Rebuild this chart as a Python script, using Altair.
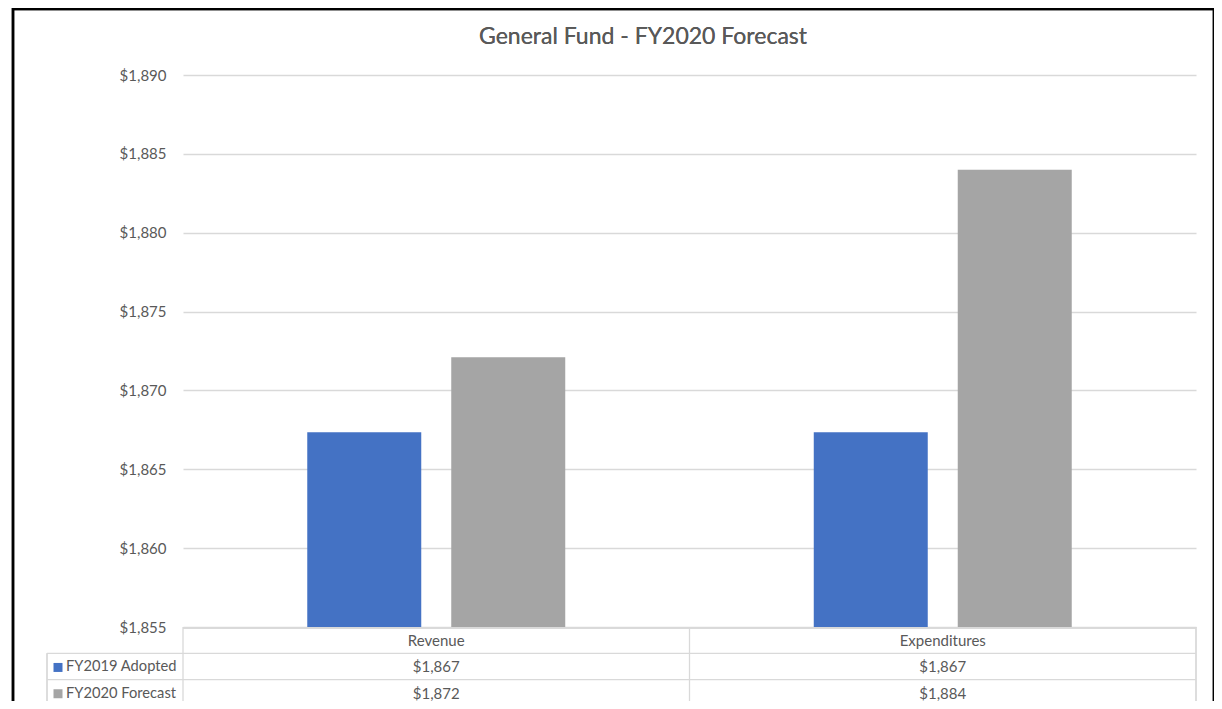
import altair as alt
import pandas as pd

categories = ["Revenue", "Expenditures"]
series = ["FY2019 Adopted", "FY2020 Forecast"]
fy2019_adopted = [1867.35, 1867.35]
fy2020_forecast = [1872.1, 1884.0]
y_ticks = [1855, 1860, 1865, 1870, 1875, 1880, 1885, 1890]
colors = ["#4472C4", "#A5A5A5"]

FONT = "Lato"
TXT = "#595959"
GRID = "#D9D9D9"
W, H = 1013, 552
ROW = 26.3

rows = []
for i, c in enumerate(categories):
    rows.append({"category": c, "series": series[0], "value": fy2019_adopted[i], "row": 1})
    rows.append({"category": c, "series": series[1], "value": fy2020_forecast[i], "row": 2})
df = pd.DataFrame(rows)
df["label"] = df["value"].map(lambda v: "${:,.0f}".format(v))
df["ty"] = H + ROW * df["row"] + ROW / 2 + 1

cat_df = pd.DataFrame({"category": categories, "ty": [H + ROW / 2 + 1] * 2})
leg_df = pd.DataFrame({"series": series, "color": colors,
                       "ty": [H + ROW * 1.5 + 1, H + ROW * 2.5 + 1]})
hline_df = pd.DataFrame({"y": [H + ROW, H + ROW * 2, H + ROW * 3],
                         "x": [-136, -136, -136]})

xsc = alt.Scale(domain=categories, paddingInner=0, paddingOuter=0)
ysc = alt.Scale(domain=[1855, 1890], nice=False, zero=False)

bars = alt.Chart(df).mark_bar(stroke=None).encode(
    x=alt.X("category:N", scale=xsc, axis=None, sort=categories),
    xOffset=alt.XOffset("series:N", sort=series,
                        scale=alt.Scale(paddingInner=0.2083, paddingOuter=0.863)),
    y=alt.Y("value:Q", scale=ysc, title=None,
            axis=alt.Axis(values=y_ticks, format="$,.0f", domain=False, ticks=False,
                          labelPadding=17, labelColor=TXT, labelFont=FONT,
                          labelFontSize=15, labelFontWeight="normal",
                          gridColor=GRID, gridWidth=1.3)),
    y2=alt.datum(1855),
    color=alt.Color("series:N", scale=alt.Scale(domain=series, range=colors), legend=None),
)

# table grid
top_line = alt.Chart(cat_df).mark_rule(color=GRID, strokeWidth=1.3).encode(
    x=alt.value(0), x2=alt.value(W), y=alt.value(H + 1))
hlines = alt.Chart(hline_df).mark_rule(color=GRID, strokeWidth=1.3).encode(
    x=alt.value(-136), x2=alt.value(W), y=alt.Y("y:Q", scale=None))
vlines = alt.Chart(cat_df).mark_rule(color=GRID, strokeWidth=1.3).encode(
    x=alt.X("category:N", scale=xsc, bandPosition=0, axis=None, sort=categories),
    y=alt.value(H), y2=alt.value(H + ROW * 3))
vright = alt.Chart(cat_df).mark_rule(color=GRID, strokeWidth=1.3).encode(
    x=alt.value(W), y=alt.value(H), y2=alt.value(H + ROW * 3))
vleft = alt.Chart(cat_df).mark_rule(color=GRID, strokeWidth=1.3).encode(
    x=alt.value(-136), y=alt.value(H + ROW), y2=alt.value(H + ROW * 3))

header = alt.Chart(cat_df).mark_text(font=FONT, fontSize=15, color=TXT, baseline="middle").encode(
    x=alt.X("category:N", scale=xsc, axis=None, sort=categories),
    y=alt.Y("ty:Q", scale=None), text="category:N")
cells = alt.Chart(df).mark_text(font=FONT, fontSize=15, color=TXT, baseline="middle").encode(
    x=alt.X("category:N", scale=xsc, axis=None, sort=categories),
    y=alt.Y("ty:Q", scale=None), text="label:N")
swatch = alt.Chart(leg_df).mark_square(size=81, opacity=1).encode(
    x=alt.value(-125), y=alt.Y("ty:Q", scale=None),
    color=alt.Color("color:N", scale=None))
leg_text = alt.Chart(leg_df).mark_text(font=FONT, fontSize=14.7, color=TXT, align="left",
                                       baseline="middle").encode(
    x=alt.value(-117), y=alt.Y("ty:Q", scale=None), text="series:N")

title = alt.Chart(cat_df).mark_text(font=FONT, fontSize=23, fontWeight="normal", color=TXT,
                                    baseline="alphabetic").encode(
    x=alt.value(460), y=alt.value(-31), text=alt.value("General Fund - FY2020 Forecast"))

border = alt.Chart(cat_df).mark_rect(fill=None, stroke="#000000", strokeWidth=2.5).encode(
    x=alt.value(-170), x2=alt.value(1031), y=alt.value(-66), y2=alt.value(700))

chart = alt.layer(
    bars, top_line, hlines, vlines, vright, vleft, header, cells, swatch, leg_text, title, border
).resolve_scale(color="independent").properties(
    width=W, height=H,
    autosize=alt.AutoSizeParams(type="none"),
    padding={"left": 175, "top": 67, "right": 18, "bottom": 74},
).configure_view(stroke=None)

chart.save("out.html", embed_options={"renderer": "svg", "actions": False})
